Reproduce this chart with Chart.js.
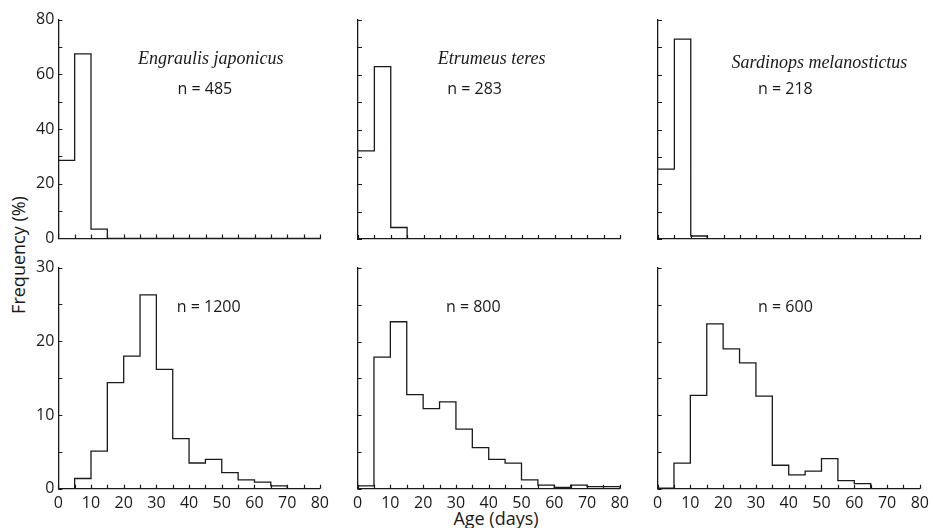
<!DOCTYPE html>
<html>
<head>
<meta charset="utf-8">
<script src="https://cdn.jsdelivr.net/npm/chart.js@4.4.0/dist/chart.umd.min.js"></script>
<style>
body{margin:0;background:#fff;width:933px;height:528px;position:relative;overflow:hidden;font-family:"Open Sans",sans-serif;color:#1a1a1a}
.panel{position:absolute}
.panel canvas{display:block}
.ttl{position:absolute;font-size:18px;line-height:1;white-space:nowrap;transform:translate(-50%,-50%)}
</style>
</head>
<body>
<div class="ttl" style="left:18px;top:255px;transform:translate(-50%,-50%) rotate(-90deg)">Frequency (%)</div>
<div class="ttl" style="left:496px;top:518px">Age (days)</div>
<script>
// 5-day age bins (left edges + last right edge)
var ageEdges=[0,5,10,15,20,25,30,35,40,45,50,55,60,65,70,75,80];
var speciesNames=['Engraulis japonicus','Etrumeus teres','Sardinops melanostictus'];
var nTop=[485,283,218];
var nBottom=[1200,800,600];

// frequency (%) per bin, top row
var engraulisTop=[28.5,67.5,3.4,0,0,0,0,0,0,0,0,0,0,0,0,0];
var etrumeusTop=[32.2,63.0,4.2,0,0,0,0,0,0,0,0,0,0,0,0,0];
var sardinopsTop=[25.5,73.0,1.1,0,0,0,0,0,0,0,0,0,0,0,0,0];
// bottom row
var engraulisBottom=[0,1.4,5.1,14.4,18.0,26.3,16.2,6.8,3.5,4.0,2.2,1.2,0.9,0.4,0,0];
var etrumeusBottom=[0.4,17.9,22.7,12.8,10.9,11.8,8.1,5.6,4.0,3.5,1.2,0.5,0.2,0.5,0.3,0.3];
var sardinopsBottom=[0.1,3.5,12.7,22.4,19.0,17.1,12.6,3.2,1.9,2.4,4.1,1.1,0.7,0,0,0];

// tick labels
var xTickLabels=[0,10,20,30,40,50,60,70,80];
var yTickLabelsTop=[0,20,40,60,80];
var yTickLabelsBottom=[0,10,20,30];

var ink='#1a1a1a';

var inwardTicks={
	id:'inwardTicks',
	afterDraw:function(chart){
		var ctx=chart.ctx, xs=chart.scales.x, ys=chart.scales.y, a=chart.chartArea, len=4;
		ctx.save();
		ctx.strokeStyle=ink; ctx.lineWidth=1.2;
		ctx.beginPath();
		xs.ticks.forEach(function(t){
			var px=Math.round(xs.getPixelForValue(t.value))+0.5;
			ctx.moveTo(px,a.bottom); ctx.lineTo(px,a.bottom-len);
		});
		ys.ticks.forEach(function(t){
			var py=Math.round(ys.getPixelForValue(t.value))+0.5;
			ctx.moveTo(a.left,py); ctx.lineTo(a.left+len,py);
		});
		ctx.stroke();
		ctx.restore();
	}
};

var notes={
	id:'notes',
	afterDatasetsDraw:function(chart){
		var o=chart.options.plugins.notes;
		if(!o) return;
		var ctx=chart.ctx, xs=chart.scales.x, ys=chart.scales.y;
		ctx.save();
		ctx.fillStyle=ink; ctx.textAlign='center'; ctx.textBaseline='middle';
		o.items.forEach(function(t){
			ctx.font=t.font;
			ctx.fillText(t.text, xs.getPixelForValue(t.x), ys.getPixelForValue(t.y));
		});
		ctx.restore();
	}
};

function histPoints(vals){
	return ageEdges.map(function(x,i){
		return {x:x, y:i<vals.length ? vals[i] : 0};
	});
}

var panels=[
	{vals:engraulisTop,row:0,col:0,items:[
		{text:speciesNames[0],x:46.6,y:65.5,font:'italic 18px "Liberation Serif"'},
		{text:'n = '+nTop[0],x:44.8,y:54.5,font:'16px "Open Sans"'}]},
	{vals:etrumeusTop,row:0,col:1,items:[
		{text:speciesNames[1],x:40.8,y:65.5,font:'italic 18px "Liberation Serif"'},
		{text:'n = '+nTop[1],x:35.6,y:54.5,font:'16px "Open Sans"'}]},
	{vals:sardinopsTop,row:0,col:2,items:[
		{text:speciesNames[2],x:49.3,y:64.3,font:'italic 18px "Liberation Serif"'},
		{text:'n = '+nTop[2],x:38.9,y:54.5,font:'16px "Open Sans"'}]},
	{vals:engraulisBottom,row:1,col:0,items:[
		{text:'n = '+nBottom[0],x:46,y:24.6,font:'16px "Open Sans"'}]},
	{vals:etrumeusBottom,row:1,col:1,items:[
		{text:'n = '+nBottom[1],x:35.3,y:24.6,font:'16px "Open Sans"'}]},
	{vals:sardinopsBottom,row:1,col:2,items:[
		{text:'n = '+nBottom[2],x:39,y:24.6,font:'16px "Open Sans"'}]}
];

var colLeft=[58,358,658], plotW=262;
var rowTop=[20,268], rowH=[219,221];

function buildConfig(p){
	var top=p.row===0;
	var yLabels=top?yTickLabelsTop:yTickLabelsBottom;
	return {
		type:'line',
		data:{datasets:[{
			data:histPoints(p.vals),
			stepped:'before',
			borderColor:ink,
			borderWidth:1.3,
			pointRadius:0,
			fill:false
		}]},
		options:{
			responsive:false,
			animation:false,
			layout:{padding:{left:3,right:4,top:3,bottom:3}},
			plugins:{legend:{display:false},tooltip:{enabled:false},notes:{items:p.items}},
			scales:{
				x:{
					type:'linear',min:0,max:80,
					grid:{display:false,drawTicks:false},
					border:{display:true,color:ink,width:1.3},
					ticks:{
						display:!top,stepSize:5,padding:5,color:ink,
						font:{family:'"Open Sans"',size:16},
						maxRotation:0,autoSkip:false,
						callback:function(v){return xTickLabels.indexOf(v)>=0?String(v):'';}
					}
				},
				y:{
					min:0,max:top?80:30,
					grid:{display:false,drawTicks:false},
					border:{display:true,color:ink,width:1.3},
					ticks:{
						display:p.col===0,stepSize:top?10:5,padding:4,color:ink,
						font:{family:'"Open Sans"',size:16},
						autoSkip:false,
						callback:function(v){return yLabels.indexOf(v)>=0?String(v):'';}
					}
				}
			}
		},
		plugins:[inwardTicks,notes]
	};
}

panels.forEach(function(p){
	var wrap=document.createElement('div');
	wrap.className='panel';
	var cv=document.createElement('canvas');
	cv.width=400; cv.height=300;
	wrap.appendChild(cv);
	document.body.appendChild(wrap);
	// first pass: measure margins round the chart area
	var ch=new Chart(cv,buildConfig(p));
	var a=ch.chartArea;
	var ml=a.left, mt=a.top, mr=ch.width-a.right, mb=ch.height-a.bottom;
	ch.destroy();
	cv.width=Math.round(ml+plotW+mr);
	cv.height=Math.round(mt+rowH[p.row]+mb);
	new Chart(cv,buildConfig(p));
	wrap.style.left=Math.round(colLeft[p.col]-ml)+'px';
	wrap.style.top=Math.round(rowTop[p.row]-mt)+'px';
});
</script>
</body>
</html>
